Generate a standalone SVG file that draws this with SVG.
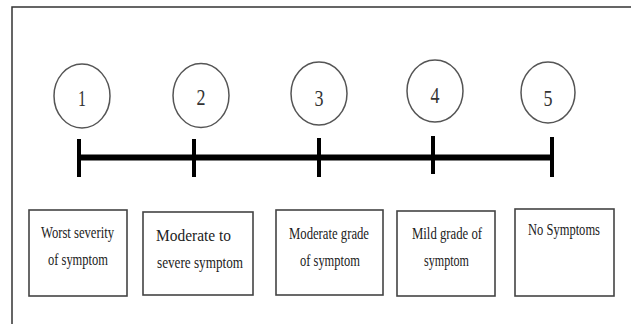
<svg xmlns="http://www.w3.org/2000/svg" width="631" height="324" viewBox="0 0 631 324">
<style>
.frame{fill:none;stroke:#333;stroke-width:1.5}
.circ{fill:#fff;stroke:#555;stroke-width:1.5}
.num{font-family:"Liberation Serif","Times New Roman",serif;font-size:23px;fill:#333;text-anchor:middle}
.box{fill:#fff;stroke:#444;stroke-width:1.6}
.lbl{font-family:"Liberation Serif","Times New Roman",serif;font-size:17px;fill:#222}
.bar{stroke:#000;stroke-width:6;fill:none}
.tick{stroke:#000;stroke-width:4;fill:none}
</style>
<rect width="631" height="324" fill="#fff"/>
<rect class="frame" x="12" y="7" width="640" height="340"/>
<g id="connectors">
<line class="bar" x1="79" y1="157.5" x2="552" y2="157.5"/>
<line class="tick" x1="79" y1="139" x2="79" y2="177"/>
<line class="tick" x1="194" y1="139" x2="194" y2="177"/>
<line class="tick" x1="319" y1="138" x2="319" y2="177"/>
<line class="tick" x1="433" y1="136" x2="433" y2="174"/>
<line class="tick" x1="552" y1="137" x2="552" y2="177"/>
</g>
<g id="c1"><ellipse class="circ" cx="82" cy="96" rx="28" ry="32"/><text class="num" x="82" y="106" textLength="8" lengthAdjust="spacingAndGlyphs">1</text></g>
<g id="c2"><ellipse class="circ" cx="201" cy="95.5" rx="28" ry="32"/><text class="num" x="201" y="105" textLength="9" lengthAdjust="spacingAndGlyphs">2</text></g>
<g id="c3"><ellipse class="circ" cx="319" cy="93.5" rx="28" ry="31.5"/><text class="num" x="319" y="106" textLength="9" lengthAdjust="spacingAndGlyphs">3</text></g>
<g id="c4"><ellipse class="circ" cx="435" cy="91" rx="28" ry="31"/><text class="num" x="435" y="103" textLength="9" lengthAdjust="spacingAndGlyphs">4</text></g>
<g id="c5"><ellipse class="circ" cx="548" cy="92.5" rx="27" ry="30.5"/><text class="num" x="548" y="106" textLength="9" lengthAdjust="spacingAndGlyphs">5</text></g>
<g id="b1"><rect class="box" x="29" y="210" width="98" height="86"/>
<text class="lbl" x="41" y="238" textLength="73" lengthAdjust="spacingAndGlyphs">Worst severity</text>
<text class="lbl" x="48" y="265" textLength="60" lengthAdjust="spacingAndGlyphs">of symptom</text></g>
<g id="b2"><rect class="box" x="143" y="212" width="110" height="83"/>
<text class="lbl" x="156" y="241" textLength="75" lengthAdjust="spacingAndGlyphs">Moderate to</text>
<text class="lbl" x="157" y="268" textLength="86" lengthAdjust="spacingAndGlyphs">severe  symptom</text></g>
<g id="b3"><rect class="box" x="276" y="210" width="107" height="85"/>
<text class="lbl" x="289" y="239" textLength="80" lengthAdjust="spacingAndGlyphs">Moderate grade</text>
<text class="lbl" x="300" y="266" textLength="60" lengthAdjust="spacingAndGlyphs">of symptom</text></g>
<g id="b4"><rect class="box" x="397" y="211" width="98" height="85"/>
<text class="lbl" x="412" y="239" textLength="70" lengthAdjust="spacingAndGlyphs">Mild grade of</text>
<text class="lbl" x="424" y="266" textLength="45" lengthAdjust="spacingAndGlyphs">symptom</text></g>
<g id="b5"><rect class="box" x="515" y="209" width="99" height="87"/>
<text class="lbl" x="528" y="235" textLength="72" lengthAdjust="spacingAndGlyphs">No Symptoms</text></g>
</svg>
